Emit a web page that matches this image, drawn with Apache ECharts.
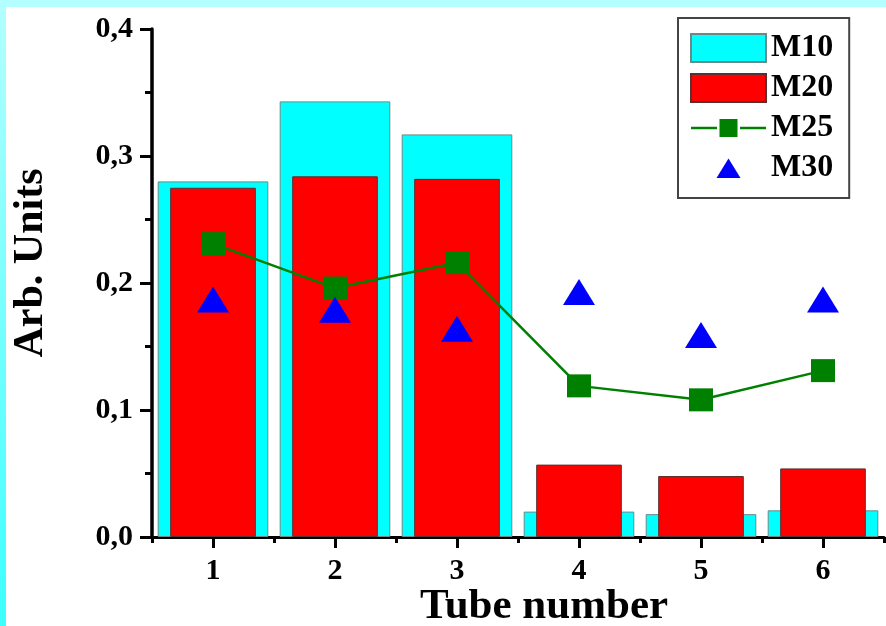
<!DOCTYPE html>
<html>
<head>
<meta charset="utf-8">
<script src="https://cdn.jsdelivr.net/npm/echarts@6/dist/echarts.min.js"></script>
<style>
  html, body { margin: 0; padding: 0; background: #ffffff; }
  #chart { width: 886px; height: 626px; }
</style>
</head>
<body>
<div id="chart"></div>
<script>
// Tube numbers along the x axis
const categories = ['1', '2', '3', '4', '5', '6'];

// Measured values per tube (arbitrary units)
const m10 = [0.280, 0.343, 0.317, 0.020, 0.018, 0.021];
const m20 = [0.275, 0.284, 0.282, 0.057, 0.048, 0.054];
const m25 = [0.231, 0.196, 0.216, 0.119, 0.108, 0.131];
const m30 = [0.187, 0.179, 0.164, 0.193, 0.159, 0.187];

// Y axis ticks
const yTicks = { min: 0, max: 0.4, interval: 0.1 };

const FONT = "'Liberation Serif', 'Times New Roman', serif";

// Legend glyphs: line broken around a square, and a small triangle in a 75x28 box
const ICON_LINE_SQUARE = 'path://M0,0 M75,28 M0,12.8 L26,12.8 L26,15.2 L0,15.2 Z M28.5,5 L46.5,5 L46.5,23 L28.5,23 Z M49,12.8 L75,12.8 L75,15.2 L49,15.2 Z';
const ICON_TRIANGLE = 'path://M0,0 M75,28 M25.5,24 L37.5,4.5 L49.5,24 Z';

const chart = echarts.init(document.getElementById('chart'), null, { renderer: 'canvas' });

chart.setOption({
  backgroundColor: '#ffffff',
  animation: false,
  graphic: [
    // light cyan frame strips along the top and left edges
    { type: 'rect', left: 0, top: 0, z: -10, silent: true,
      shape: { width: 886, height: 7 }, style: { fill: '#b3ffff' } },
    { type: 'rect', left: 0, top: 0, z: -10, silent: true,
      shape: { width: 6, height: 626 },
      style: { fill: new echarts.graphic.LinearGradient(0, 0, 0, 1, [
        { offset: 0, color: '#b3ffff' },
        { offset: 1, color: '#3cffff' }
      ]) } }
  ],
  grid: { left: 152, right: 2, top: 29, bottom: 89, containLabel: false, outerBoundsMode: 'none' },
  legend: {
    orient: 'vertical',
    left: 678,
    top: 18,
    padding: [14, 16, 14, 12],
    borderColor: '#444444',
    borderWidth: 2,
    backgroundColor: '#ffffff',
    itemWidth: 75,
    itemHeight: 28,
    itemGap: 8,
    itemTextGap: 12,
    textStyle: { fontFamily: FONT, fontWeight: 'bold', fontSize: 32, color: '#000000' },
    data: [
      { name: 'M10', icon: 'rect' },
      { name: 'M20', icon: 'rect' },
      { name: 'M25', icon: ICON_LINE_SQUARE, itemStyle: { color: '#008000', borderWidth: 0 } },
      { name: 'M30', icon: ICON_TRIANGLE, itemStyle: { color: '#0000ff', borderWidth: 0 } }
    ]
  },
  xAxis: [
    {
      type: 'category',
      data: categories,
      boundaryGap: true,
      name: 'Tube number',
      nameLocation: 'middle',
      nameGap: 48,
      nameMoveOverlap: false,
      nameTextStyle: { fontFamily: FONT, fontWeight: 'bold', fontSize: 43, color: '#000000',
                       padding: [0, 0, 0, 52] },
      axisLine: { show: true, lineStyle: { color: '#000000', width: 3 } },
      axisTick: { show: true, alignWithLabel: true, inside: false, length: 11,
                  lineStyle: { color: '#000000', width: 3 } },
      axisLabel: { margin: 19, fontFamily: FONT, fontWeight: 'bold', fontSize: 30, color: '#000000' },
      splitLine: { show: false }
    },
    {
      // same categories; short ticks at the category boundaries
      type: 'category',
      data: categories,
      boundaryGap: true,
      position: 'bottom',
      axisLine: { show: false },
      axisTick: { show: true, alignWithLabel: false, inside: false, length: 6,
                  lineStyle: { color: '#000000', width: 3 } },
      axisLabel: { show: false },
      splitLine: { show: false }
    }
  ],
  yAxis: {
    type: 'value',
    min: yTicks.min,
    max: yTicks.max,
    interval: yTicks.interval,
    name: 'Arb. Units',
    nameLocation: 'middle',
    nameGap: 100,
    nameMoveOverlap: false,
    nameTextStyle: { fontFamily: FONT, fontWeight: 'bold', fontSize: 42, color: '#000000',
                     padding: [0, 0, 0, 40] },
    axisLine: { show: true, lineStyle: { color: '#000000', width: 3.5 } },
    axisTick: { show: true, inside: false, length: 12, lineStyle: { color: '#000000', width: 3 } },
    minorTick: { show: true, splitNumber: 2, length: 7, lineStyle: { color: '#000000', width: 3 } },
    axisLabel: {
      margin: 19,
      fontFamily: FONT, fontWeight: 'bold', fontSize: 30, color: '#000000',
      formatter: v => v.toFixed(1).replace('.', ',')
    },
    splitLine: { show: false },
    minorSplitLine: { show: false }
  },
  series: [
    {
      name: 'M10',
      type: 'bar',
      xAxisIndex: 0,
      data: m10,
      barWidth: '90.7%',
      itemStyle: { color: '#00ffff', borderColor: '#6a8a8a', borderWidth: 1 },
      z: 2
    },
    {
      // on the twin category axis so it stays centred on each tube
      name: 'M20',
      type: 'bar',
      xAxisIndex: 1,
      data: m20,
      barWidth: '70.2%',
      itemStyle: { color: '#ff0000', borderColor: '#5a3030', borderWidth: 1 },
      z: 3
    },
    {
      name: 'M25',
      type: 'line',
      xAxisIndex: 0,
      data: m25,
      symbol: 'rect',
      symbolSize: [24, 23],
      itemStyle: { color: '#008000' },
      lineStyle: { color: '#008000', width: 2.5 },
      z: 4
    },
    {
      name: 'M30',
      type: 'scatter',
      xAxisIndex: 0,
      data: m30,
      symbol: 'triangle',
      symbolSize: [32, 26],
      itemStyle: { color: '#0000ff', opacity: 1 },
      z: 5
    }
  ]
});
</script>
</body>
</html>
